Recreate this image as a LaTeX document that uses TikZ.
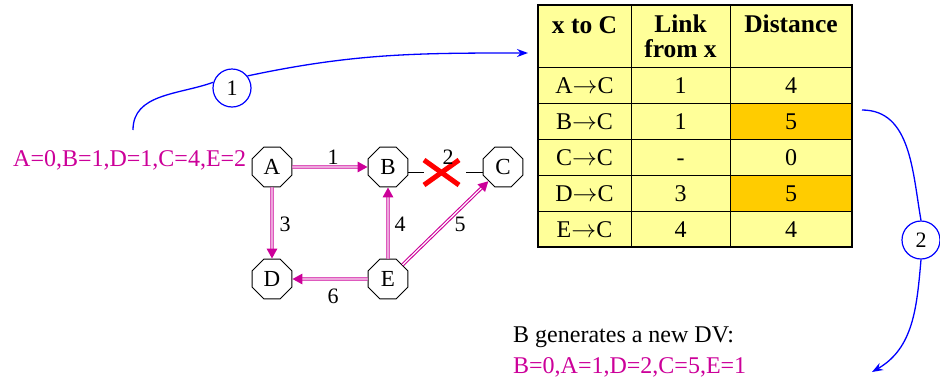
\documentclass[tikz,border=0pt]{standalone}
\usepackage{fontspec}
\setmainfont{Liberation Serif}
\usetikzlibrary{shapes.geometric,arrows.meta,calc}
\definecolor{mag}{RGB}{204,0,153}
\definecolor{tblyel}{RGB}{255,255,153}
\definecolor{tblorg}{RGB}{255,204,0}
\definecolor{bl}{RGB}{0,0,255}
\newcommand{\toarr}{$\rightarrow$}
\begin{document}
\begin{tikzpicture}[x=1pt,y=1pt,
  router/.style={regular polygon, regular polygon sides=8, draw, line width=0.9pt,
    minimum size=43pt, inner sep=0pt, font=\fontsize{23}{25}\selectfont},
  lbl/.style={font=\fontsize{22}{24}\selectfont, inner sep=0pt},
  txt/.style={font=\fontsize{24}{28}\selectfont, inner sep=0pt},
  hdr/.style={font=\fontsize{25.5}{26}\selectfont\bfseries, inner sep=0pt, align=center},
  cell/.style={font=\fontsize{24}{26}\selectfont, inner sep=0pt},
  dblout/.style={mag, line width=3.4pt, -{Triangle[length=10pt,width=10pt]}},
  dblin/.style={white, line width=1.2pt, shorten >=10pt},
  blueline/.style={bl, line width=1.3pt},
  bluearrow/.style={bl, line width=1.3pt, -{Stealth[length=11pt,width=8pt]}},
  stepcircle/.style={circle, draw=bl, line width=1.2pt, minimum size=38pt, inner sep=0pt,
    font=\fontsize{22}{24}\selectfont},
  grid/.style={line width=0.8pt},
  ]
\useasboundingbox (0,0) rectangle (940,-381);

% ---------- graph ----------
\node[router] (A) at (272,-167) {A};
\node[router] (B) at (388,-167) {B};
\node[router] (C) at (503,-167) {C};
\node[router] (D) at (272,-279) {D};
\node[router] (E) at (388,-279) {E};

\foreach \s/\t in {A/B, A/D, E/B, E/D, E/C}{
  \draw[dblout] (\s) -- (\t);
  \draw[dblin] (\s) -- (\t);
}

\coordinate (g1) at (424,-172);
\coordinate (g2) at (466,-172);
\draw[line width=0.9pt] (B.east |- g1) -- (g1);
\draw[line width=0.9pt] (g2) -- (C.west |- g2);
\draw[red, line width=5pt] (424,-160) -- (459,-185);
\draw[red, line width=5pt] (424,-185) -- (459,-160);

\node[lbl] (l1) at (333,-157) {1};
\node[lbl] (l2) at (448,-157) {2};
\node[lbl] (l3) at (285,-224) {3};
\node[lbl] (l4) at (400,-224) {4};
\node[lbl] (l5) at (460,-224) {5};
\node[lbl] (l6) at (333,-296) {6};

% ---------- texts ----------
\node[txt, text=mag, anchor=west] (dv1) at (13,-160) {A=0,B=1,D=1,C=4,E=2};
\node[txt, anchor=west] (gen) at (513,-337) {B generates a new DV:};
\node[txt, text=mag, anchor=west] (dv2) at (513,-367) {B=0,A=1,D=2,C=5,E=1};

% ---------- table ----------
\fill[tblyel] (538,-5) rectangle (852,-247);
\fill[tblorg] (730,-103) rectangle (852,-139);
\fill[tblorg] (730,-175) rectangle (852,-211);
\draw[grid] (631,-5) -- (631,-247);
\draw[grid] (730,-5) -- (730,-247);
\foreach \yy in {67,103,139,175,211}{
  \draw[grid] (538,-\yy) -- (852,-\yy);
}
\draw[line width=2.6pt] (538,-5) rectangle (852,-247);

\node[hdr, anchor=base] (h1) at (584.5,-33) {x to C};
\node[hdr, anchor=base] (h2a) at (680.5,-32) {Link};
\node[hdr, anchor=base] (h2b) at (680.5,-57) {from x};
\node[hdr, anchor=base] (h3) at (791,-32) {Distance};

\foreach \r/\yy/\a/\b/\c in {1/93/A/1/4, 2/129/B/1/5, 3/165/C/-/0, 4/201/D/3/5, 5/237/E/4/4}{
  \node[cell, anchor=base] (r\r a) at (584.5,-\yy) {\a\toarr C};
  \node[cell, anchor=base] (r\r b) at (680.5,-\yy) {\b};
  \node[cell, anchor=base] (r\r c) at (791,-\yy) {\c};
}

% ---------- blue step curves ----------
\node[stepcircle] (c1) at (232,-88) {1};
\coordinate (s1) at (133,-130);
\coordinate (e1) at (528,-53);
\draw[blueline] (s1) to[out=90,in=200] (c1.163);
\draw[bluearrow] (c1.38) to[out=12,in=180] (e1);

\node[stepcircle] (c2) at (921,-240) {2};
\coordinate (s2) at (862,-110);
\coordinate (e2) at (872,-372);
\draw[blueline] (s2) to[out=0,in=100] (c2.north);
\draw[bluearrow] (c2.south) to[out=-95,in=30] (e2);
\end{tikzpicture}
\end{document}
